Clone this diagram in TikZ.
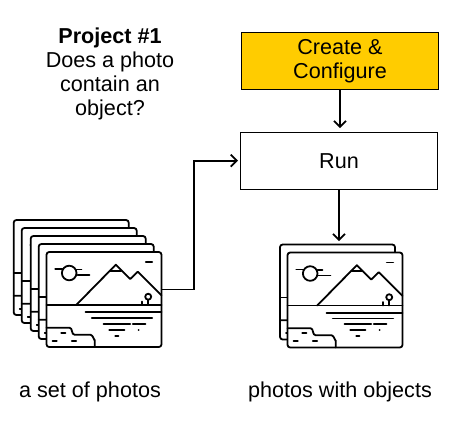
\documentclass[tikz,border=0pt]{standalone}
\usepackage{fontspec}
\setmainfont{Liberation Sans}
\usetikzlibrary{arrows.meta, positioning}
\definecolor{configfill}{RGB}{255,204,0}

\begin{document}
\begin{tikzpicture}[
    x=0.75pt, y=-0.75pt,
    stepbox/.style={rectangle, draw=black, line width=0.75pt, inner sep=0pt,
                  minimum width=147.75pt, minimum height=43pt,
                  font=\fontsize{16.2}{18}\selectfont, align=center},
    link/.style={-{Straight Barb[length=4.5pt, width=9pt]}, line width=1.35pt},
    lblstyle/.style={font=\fontsize{16.2}{18}\selectfont, align=center, inner sep=0pt},
    icon/.style={line width=1.35pt, line cap=round, line join=round},
    photobox/.style={rectangle, draw=black, fill=white, line width=1.35pt, rounded corners=2pt,
                  inner sep=0pt, outer sep=0pt, anchor=north west,
                  minimum width=86.25pt, minimum height=71.25pt},
    photo/.pic={
        \node[photobox] (frame) at (0,0) {};
        % sky
        \draw[icon] (22.7,21) circle[radius=7.3];
        \draw[icon] (8.7,17) -- (16,17);
        \draw[icon] (30,17.5) -- (35,17.5);
        \draw[icon] (31,23) -- (43,23);
        \draw[icon] (99.3,10) -- (105.7,10);
        % mountains
        \draw[icon] (29.7,53) -- (69.3,12.7) -- (83.7,27) -- (91.3,19.7) -- (115,43.3);
        \draw[icon] (63.7,18.7) -- (74.7,18.7);
        % horizon and tree
        \draw[icon] (0,53) -- (115,53);
        \draw[icon] (101.7,44.7) circle[radius=3];
        \draw[icon] (101.7,47.7) -- (101.7,53);
        \draw[icon] (95.3,49.5) -- (95.3,53);
        % water
        \draw[icon] (39,60.3) -- (115,60.3);
        \draw[icon] (45.3,66) -- (105.7,66);
        \draw[icon] (57,71.7) -- (83.7,71.7);
        \draw[icon] (86.3,71.7) -- (99,71.7);
        \draw[icon] (62.7,77.7) -- (78,77.7);
        \draw[icon] (92,77.7) -- (92.2,77.7);
        \draw[icon] (68.7,83.7) -- (72,83.7);
        % shore
        \draw[icon] (0,75.7) -- (23,75.7) to[out=0, in=180] (28,82.7) -- (44,82.7) to[out=0, in=-90] (48.3,88) -- (48.3,95);
        \draw[icon] (14.7,80.7) -- (19,80.7);
        \draw[icon] (6,88.7) -- (10.3,88.7);
        \draw[icon] (25.3,88.7) -- (29.7,88.7);
    },
]
\useasboundingbox (0,0) rectangle (466,430);

\node[stepbox, fill=configfill, anchor=north west] (create) at (241,32) {Create \&\\Configure};
\node[stepbox, anchor=north west] (run) at (240,131.5) {Run};

\node[lblstyle] (title) at (110,74) {\textbf{Project \#1}\\Does a photo\\contain an\\object?};

% stack of input photos
\pic (setA) at (13.7,220) {photo};
\pic (setB) at (21.7,228) {photo};
\pic (setC) at (30.7,236) {photo};
\pic (setD) at (38.7,244) {photo};
\pic (setE) at (46.5,252) {photo};

% output photos
\pic (doneA) at (280,244.5) {photo};
\pic (doneB) at (287.5,252.5) {photo};

\node[lblstyle] (setlabel) at (90,392) {a set of photos};
\node[lblstyle] (donelabel) at (340,392) {photos with objects};

\coordinate (setout) at (161.5,289.5);
\coordinate (elbow) at (194,160);

% set -> Run
\draw[link, shorten >=1.5pt] (setout) -- (setout -| elbow) |- (run.west);

% Create -> Run
\draw[link, shorten >=2.5pt] (create) -- (create |- run.north);

% Run -> output
\draw[link, shorten >=2.5pt] (run) -- (run |- doneAframe.north);

\end{tikzpicture}
\end{document}
